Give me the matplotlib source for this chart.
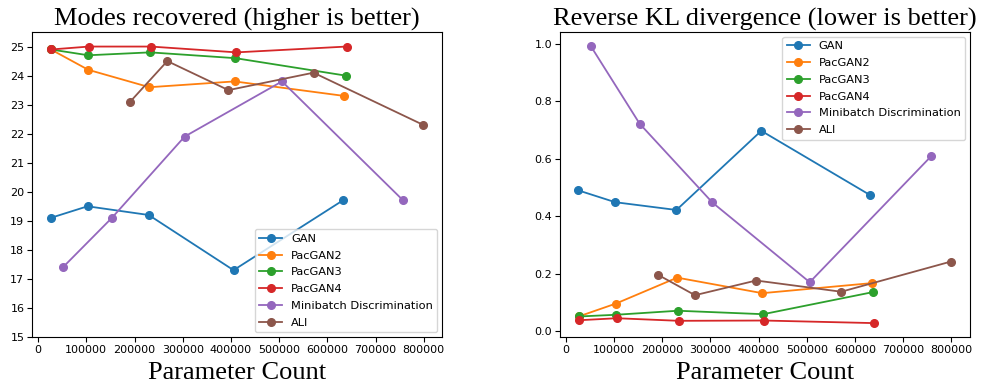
import matplotlib
matplotlib.use("Agg")
import matplotlib.pyplot as plt

series_names = ["GAN", "PacGAN2", "PacGAN3", "PacGAN4", "Minibatch Discrimination", "ALI"]

# Parameter counts (x) per series
x_gan = [26000, 102500, 229500, 405500, 632000]
x_pac2 = [26500, 104000, 231000, 407500, 635000]
x_pac3 = [26500, 104000, 232500, 409500, 638000]
x_pac4 = [27500, 105500, 234000, 411500, 640000]
x_mb = [51500, 153000, 304000, 506000, 757500]
x_ali = [191000, 268000, 394800, 571400, 799300]

# Modes recovered
modes_gan = [19.1, 19.5, 19.2, 17.3, 19.7]
modes_pac2 = [24.9, 24.2, 23.6, 23.8, 23.3]
modes_pac3 = [24.9, 24.7, 24.8, 24.6, 24.0]
modes_pac4 = [24.9, 25.0, 25.0, 24.8, 25.0]
modes_mb = [17.4, 19.1, 21.9, 23.8, 19.7]
modes_ali = [23.1, 24.5, 23.5, 24.1, 22.3]

# Reverse KL divergence
kl_gan = [0.490, 0.449, 0.422, 0.697, 0.473]
kl_pac2 = [0.052, 0.097, 0.187, 0.133, 0.168]
kl_pac3 = [0.052, 0.058, 0.072, 0.060, 0.137]
kl_pac4 = [0.039, 0.046, 0.037, 0.038, 0.029]
kl_mb = [0.992, 0.722, 0.448, 0.171, 0.608]
kl_ali = [0.197, 0.126, 0.177, 0.138, 0.243]

xs = [x_gan, x_pac2, x_pac3, x_pac4, x_mb, x_ali]
modes = [modes_gan, modes_pac2, modes_pac3, modes_pac4, modes_mb, modes_ali]
kls = [kl_gan, kl_pac2, kl_pac3, kl_pac4, kl_mb, kl_ali]

colors = ["#1f77b4", "#ff7f0e", "#2ca02c", "#d62728", "#9467bd", "#8c564b"]

fig = plt.figure(figsize=(9.82, 3.86), dpi=100)
ax1 = fig.add_axes([0.0326, 0.127, 0.4175, 0.79])
ax2 = fig.add_axes([0.570, 0.127, 0.4175, 0.79])

serif = ["Liberation Serif", "DejaVu Serif"]

for ax, ys, title, loc in [
    (ax1, modes, "Modes recovered (higher is better)", "lower right"),
    (ax2, kls, "Reverse KL divergence (lower is better)", "upper right"),
]:
    for name, x, y, c in zip(series_names, xs, ys, colors):
        ax.plot(x, y, marker="o", color=c, label=name, linewidth=1.3, markersize=5.5)
    ax.set_title(title, family=serif, fontsize=19, pad=5)
    ax.set_xlabel("Parameter Count", family=serif, fontsize=19, labelpad=5)
    ax.tick_params(labelsize=8, length=3.5, pad=2)
    ax.set_xticks([0, 100000, 200000, 300000, 400000, 500000, 600000, 700000, 800000])
    ax.legend(loc=loc, fontsize=8.2, handlelength=2.0, labelspacing=0.6,
              borderaxespad=0.4)

ax1.set_ylim(15, 25.5)
ax1.set_yticks([15, 16, 17, 18, 19, 20, 21, 22, 23, 24, 25])

fig.savefig("out.png", dpi=100)
